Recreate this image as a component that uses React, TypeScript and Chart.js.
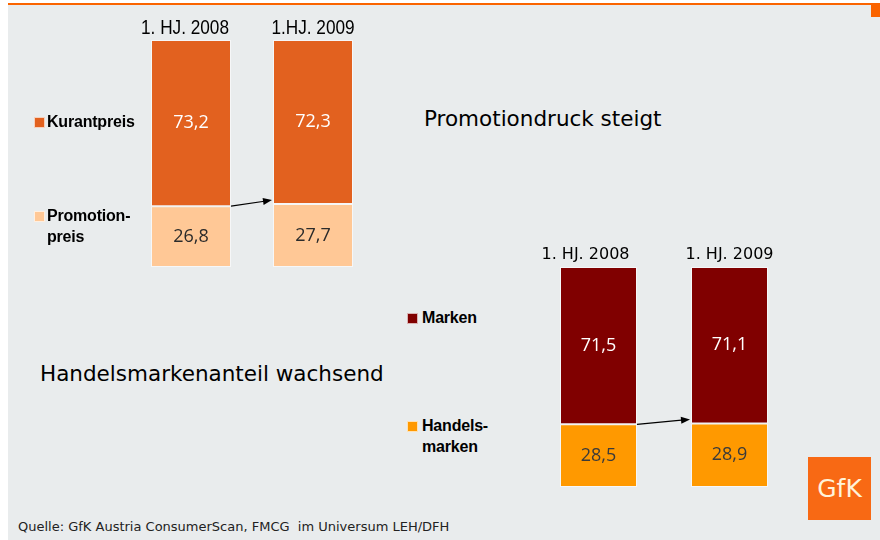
import React, { useEffect, useRef } from "react";
import { Chart, registerables } from "chart.js";
Chart.register(...registerables);

// ---- data ----
const periodsPromo = ["1. HJ. 2008", "1.HJ. 2009"];
const kurantpreis = [73.2, 72.3];
const promotionpreis = [26.8, 27.7];

const periodsMarken = ["1. HJ. 2008", "1. HJ. 2009"];
const marken = [71.5, 71.1];
const handelsmarken = [28.5, 28.9];

const fmt = (v: number) => v.toFixed(1).replace(".", ",");

const overlayPlugin = {
  id: "overlay",
  afterDatasetsDraw(chart: any, _args: any, opts: any) {
    const ctx = chart.ctx;
    ctx.save();
    // value labels
    chart.data.datasets.forEach((ds: any, di: number) => {
      const meta = chart.getDatasetMeta(di);
      meta.data.forEach((bar: any, i: number) => {
        const p = bar.getProps(["x", "y", "base"], true);
        ctx.fillStyle = ds.labelColor;
        ctx.font = opts.valueFont;
        ctx.textAlign = "center";
        ctx.textBaseline = "middle";
        ctx.fillText(fmt(ds.data[i]), p.x, (p.y + p.base) / 2);
      });
    });
    // category labels on top
    const xs = chart.scales.x;
    ctx.fillStyle = "#000";
    ctx.font = opts.catFont;
    ctx.textAlign = "center";
    ctx.textBaseline = "middle";
    chart.data.labels.forEach((l: string, i: number) => {
      const cx = xs.getPixelForValue(i) + opts.catOffsets[i];
      ctx.save();
      ctx.translate(cx, chart.chartArea.top - 12);
      ctx.scale(opts.catScaleX, 1);
      ctx.fillText(l, 0, 0);
      ctx.restore();
    });
    // arrow between split points
    const b0 = chart.getDatasetMeta(0).data[0].getProps(["x", "y", "width"], true);
    const b1 = chart.getDatasetMeta(0).data[1].getProps(["x", "y", "width"], true);
    const x0 = b0.x + b0.width / 2;
    const y0 = b0.y;
    const x1 = b1.x - b1.width / 2 - 1;
    const y1 = b1.y - 4;
    const ang = Math.atan2(y1 - y0, x1 - x0);
    ctx.strokeStyle = "#000";
    ctx.fillStyle = "#000";
    ctx.lineWidth = 1.2;
    ctx.beginPath();
    ctx.moveTo(x0, y0);
    ctx.lineTo(x1 - 6 * Math.cos(ang), y1 - 6 * Math.sin(ang));
    ctx.stroke();
    ctx.beginPath();
    ctx.moveTo(x1, y1);
    ctx.lineTo(x1 - 9 * Math.cos(ang) + 3.5 * Math.sin(ang), y1 - 9 * Math.sin(ang) - 3.5 * Math.cos(ang));
    ctx.lineTo(x1 - 9 * Math.cos(ang) - 3.5 * Math.sin(ang), y1 - 9 * Math.sin(ang) + 3.5 * Math.cos(ang));
    ctx.closePath();
    ctx.fill();
    ctx.restore();
  },
};

function makeConfig(labels: string[], bottom: number[], top: number[], cBottom: string, cTop: string, lBottom: string, lTop: string, catPct: number, catFont: string, catScaleX: number, catOffsets: number[]) {
  return {
    type: "bar" as const,
    data: {
      labels,
      datasets: [
        { data: bottom, backgroundColor: cBottom, labelColor: lBottom, borderColor: "rgba(255,255,255,0.6)", borderWidth: 1, borderSkipped: false },
        { data: top, backgroundColor: cTop, labelColor: lTop, borderColor: "rgba(255,255,255,0.6)", borderWidth: 1, borderSkipped: false },
      ],
    },
    options: {
      responsive: false,
      animation: false as const,
      layout: { padding: { top: 28, left: 0, right: 0, bottom: 0 } },
      datasets: { bar: { barPercentage: 1, categoryPercentage: catPct } },
      plugins: {
        legend: { display: false },
        tooltip: { enabled: false },
        overlay: { valueFont: "18px 'Open Sans'", catFont, catScaleX, catOffsets },
      },
      scales: {
        x: { stacked: true, display: false },
        y: { stacked: true, display: false, min: 0, max: 100 },
      },
    },
    plugins: [overlayPlugin],
  };
}

const legendText: React.CSSProperties = {
  position: "absolute",
  fontFamily: "'Liberation Sans', 'DejaVu Sans', sans-serif",
  fontWeight: 900,
  fontSize: 16,
  lineHeight: "21px",
  color: "#000",
  letterSpacing: "-0.2px",
  whiteSpace: "nowrap",
};

const sq = (left: number, top: number, color: string): React.CSSProperties => ({
  position: "absolute",
  left,
  top,
  width: 9,
  height: 9,
  background: color,
  border: "1px solid rgba(255,255,255,0.7)",
});

const titleStyle: React.CSSProperties = {
  position: "absolute",
  fontFamily: "'DejaVu Sans', sans-serif",
  fontSize: 21.5,
  lineHeight: "26px",
  color: "#000",
  whiteSpace: "nowrap",
};

export default function App() {
  const ref1 = useRef<HTMLCanvasElement>(null);
  const ref2 = useRef<HTMLCanvasElement>(null);

  useEffect(() => {
    const c1 = new Chart(
      ref1.current!,
      makeConfig(periodsPromo, promotionpreis, kurantpreis, "#FFC896", "#E2611F", "#2b2b2b", "#ffffff", 80 / 122,
        "20px 'Liberation Sans', sans-serif", 0.86, [-6, 0]) as any
    );
    const c2 = new Chart(
      ref2.current!,
      makeConfig(periodsMarken, handelsmarken, marken, "#FF9900", "#800000", "#3a3a3a", "#ffffff", 77 / 131,
        "16px 'DejaVu Sans', sans-serif", 1, [-13, 0]) as any
    );
    return () => {
      c1.destroy();
      c2.destroy();
    };
  }, []);

  return (
    <div style={{ position: "absolute", left: 0, top: 0, width: 880, height: 540, background: "#fff", overflow: "hidden" }}>
      <div style={{ position: "absolute", left: 8, top: 5, width: 872, height: 535, background: "#E9ECED" }} />
      <div style={{ position: "absolute", left: 8, top: 3, width: 872, height: 2, background: "#FA6400" }} />
      <div style={{ position: "absolute", left: 871, top: 5, width: 9, height: 12, background: "#FA6400" }} />

      <canvas ref={ref1} width={244} height={255} style={{ position: "absolute", left: 130, top: 12 }} />
      <canvas ref={ref2} width={262} height={248} style={{ position: "absolute", left: 533, top: 239 }} />

      {/* legend chart 1 */}
      <div style={sq(34, 117, "#E2611F")} />
      <div style={{ ...legendText, left: 47, top: 111 }}>Kurantpreis</div>
      <div style={sq(34, 211, "#FFC896")} />
      <div style={{ ...legendText, left: 47, top: 205 }}>Promotion-<br />preis</div>

      {/* legend chart 2 */}
      <div style={sq(407, 313, "#800000")} />
      <div style={{ ...legendText, left: 422, top: 307 }}>Marken</div>
      <div style={sq(407, 421, "#FF9900")} />
      <div style={{ ...legendText, left: 422, top: 415 }}>Handels-<br />marken</div>

      {/* titles */}
      <div style={{ ...titleStyle, left: 424, top: 106 }}>Promotiondruck steigt</div>
      <div style={{ ...titleStyle, left: 40, top: 361 }}>Handelsmarkenanteil wachsend</div>

      {/* source */}
      <div style={{ position: "absolute", left: 18, top: 519, fontFamily: "'DejaVu Sans', sans-serif", fontSize: 13, lineHeight: "16px", color: "#222", whiteSpace: "pre" }}>
        {"Quelle: GfK Austria ConsumerScan, FMCG  im Universum LEH/DFH"}
      </div>

      {/* logo */}
      <div style={{ position: "absolute", left: 808, top: 457, width: 63, height: 63, background: "#F86914", color: "#FFF3D9", fontFamily: "'DejaVu Sans', sans-serif", fontSize: 25, lineHeight: "63px", textAlign: "center" }}>
        GfK
      </div>
    </div>
  );
}
